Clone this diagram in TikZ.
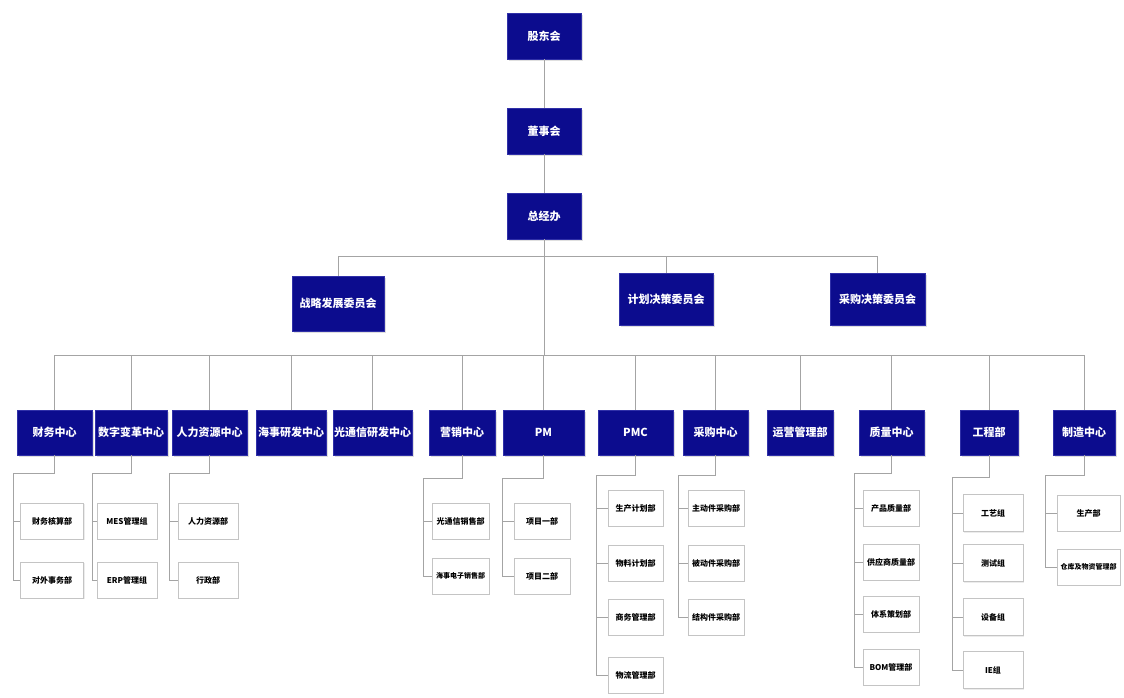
\documentclass[tikz,border=0pt]{standalone}
\usepackage{fontspec}
\newfontfamily\cjk{Noto Sans CJK SC}
\usepackage{tikz}
\usetikzlibrary{positioning,calc,shadows}
\definecolor{orgblue}{HTML}{0C0C8E}
\definecolor{orgedge}{HTML}{3030A8}
\definecolor{subedge}{HTML}{C4C4C4}
\definecolor{linkgray}{HTML}{A4A4A4}

\begin{document}
\begin{tikzpicture}[
    x=1pt, y=-1pt,
    orgbox/.style={draw=orgedge, fill=orgblue, text=white, inner sep=0pt,
        font=\cjk\bfseries\fontsize{11}{13}\selectfont,
        drop shadow={shadow xshift=1.5pt, shadow yshift=-1.5pt, opacity=0.25}},
    deptbox/.style={orgbox, minimum height=45pt},
    subbox/.style={draw=subedge, fill=white, inner sep=0pt, minimum height=36pt,
        font=\cjk\bfseries\fontsize{8}{10}\selectfont,
        drop shadow={shadow xshift=1pt, shadow yshift=-1pt, opacity=0.15}},
    smalltext/.style={font=\cjk\bfseries\fontsize{7}{9}\selectfont},
    link/.style={draw=linkgray, line width=0.8pt}
]
\fill[white] (0,0) rectangle (1124,697);
\useasboundingbox (0,0) rectangle (1124,697);

% Board level
\node[orgbox, minimum width=74pt, minimum height=46pt] (gdh) at (544,36) {股东会};
\node[orgbox, minimum width=74pt, minimum height=46pt] (dsh) at (544,131) {董事会};
\node[orgbox, minimum width=74pt, minimum height=46pt] (zjb) at (544,216) {总经办};

% Committees
\node[orgbox, minimum width=92pt, minimum height=55pt] (zlwyh) at (338,303.5) {战略发展委员会};
\node[orgbox, minimum width=94pt, minimum height=52pt] (jhwyh) at (666,299) {计划决策委员会};
\node[orgbox, minimum width=95pt, minimum height=52pt] (cgwyh) at (877.5,299) {采购决策委员会};

% Centres and departments
\node[deptbox, minimum width=75pt] (cw) at (54.5,432.5) {财务中心};
\node[deptbox, minimum width=72pt] (sz) at (131,432.5) {数字变革中心};
\node[deptbox, minimum width=75pt] (rl) at (209.5,432.5) {人力资源中心};
\node[deptbox, minimum width=70pt] (hs) at (291,432.5) {海事研发中心};
\node[deptbox, minimum width=79pt] (gt) at (372.5,432.5) {光通信研发中心};
\node[deptbox, minimum width=66pt] (yx) at (462,432.5) {营销中心};
\node[deptbox, minimum width=81pt] (pm) at (543.5,432.5) {PM};
\node[deptbox, minimum width=75pt] (pmc) at (635.5,432.5) {PMC};
\node[deptbox, minimum width=65pt] (cg) at (715.5,432.5) {采购中心};
\node[deptbox, minimum width=66pt] (yy) at (800,432.5) {运营管理部};
\node[deptbox, minimum width=65pt] (zl) at (891.5,432.5) {质量中心};
\node[deptbox, minimum width=58pt] (gc) at (989,432.5) {工程部};
\node[deptbox, minimum width=62pt] (zz) at (1084,432.5) {制造中心};

% Sub units
\node[subbox, minimum width=63pt] (cw-1) at (52,521) {财务核算部};
\node[subbox, minimum width=63pt] (cw-2) at (52,580) {对外事务部};
\node[subbox, minimum width=60pt] (sz-1) at (127,521) {MES管理组};
\node[subbox, minimum width=60pt] (sz-2) at (127,580) {ERP管理组};
\node[subbox, minimum width=60pt] (rl-1) at (208,521) {人力资源部};
\node[subbox, minimum width=60pt] (rl-2) at (208,580) {行政部};
\node[subbox, minimum width=57pt] (yx-1) at (460.5,521) {光通信销售部};
\node[subbox, smalltext, minimum width=57pt] (yx-2) at (460.5,576) {海事电子销售部};
\node[subbox, minimum width=56pt] (pm-1) at (542,521) {项目一部};
\node[subbox, minimum width=56pt] (pm-2) at (542,576) {项目二部};
\node[subbox, minimum width=55pt] (pmc-1) at (635.5,508) {生产计划部};
\node[subbox, minimum width=55pt] (pmc-2) at (635.5,563) {物料计划部};
\node[subbox, minimum width=55pt] (pmc-3) at (635.5,617) {商务管理部};
\node[subbox, minimum width=55pt] (pmc-4) at (635.5,675) {物流管理部};
\node[subbox, minimum width=56pt] (cg-1) at (716,508) {主动件采购部};
\node[subbox, minimum width=56pt] (cg-2) at (716,563) {被动件采购部};
\node[subbox, minimum width=56pt] (cg-3) at (716,617) {结构件采购部};
\node[subbox, minimum width=56pt] (zl-1) at (891,508) {产品质量部};
\node[subbox, minimum width=56pt] (zl-2) at (891,562) {供应商质量部};
\node[subbox, minimum width=56pt] (zl-3) at (891,614) {体系策划部};
\node[subbox, minimum width=56pt] (zl-4) at (891,667) {BOM管理部};
\node[subbox, minimum width=60pt, minimum height=37pt] (gc-1) at (993,513) {工艺组};
\node[subbox, minimum width=60pt, minimum height=37pt] (gc-2) at (993,563) {测试组};
\node[subbox, minimum width=60pt, minimum height=37pt] (gc-3) at (993,617) {设备组};
\node[subbox, minimum width=60pt, minimum height=37pt] (gc-4) at (993,670) {IE组};
\node[subbox, minimum width=63pt] (zz-1) at (1088.5,513) {生产部};
\node[subbox, smalltext, minimum width=63pt] (zz-2) at (1088.5,567) {仓库及物资管理部};

% Trunk and the two rails
\coordinate (hub1) at (544,256);
\coordinate (hub2) at (544,355);
\draw[link] (gdh) -- (dsh);
\draw[link] (dsh) -- (zjb);
\draw[link] (zjb.south) -- (hub2);
\draw[link] (hub1) -| (zlwyh.north);
\draw[link] (hub1) -| (jhwyh.north);
\draw[link] (hub1) -| (cgwyh.north);
\foreach \d in {cw,sz,rl,hs,gt,yx,pm,pmc,cg,yy,zl,gc,zz}
  \draw[link] (hub2) -| (\d.north);

% Side brackets down to the sub units
\foreach \g/\n/\bx/\by in {cw/2/13/473, sz/2/92/473, rl/2/169/473, yx/2/423/478,
    pm/2/502/478, pmc/4/596/475, cg/3/678/475, zl/4/854/473, gc/4/952/477, zz/2/1045/475} {
  \coordinate (\g-b) at (\bx,\by);
  \draw[link] (\g.south) |- (\g-b) |- (\g-\n.west);
  \foreach \i in {1,...,\n}
    \draw[link] (\g-b |- \g-\i.west) -- (\g-\i.west);
}
\end{tikzpicture}
\end{document}
